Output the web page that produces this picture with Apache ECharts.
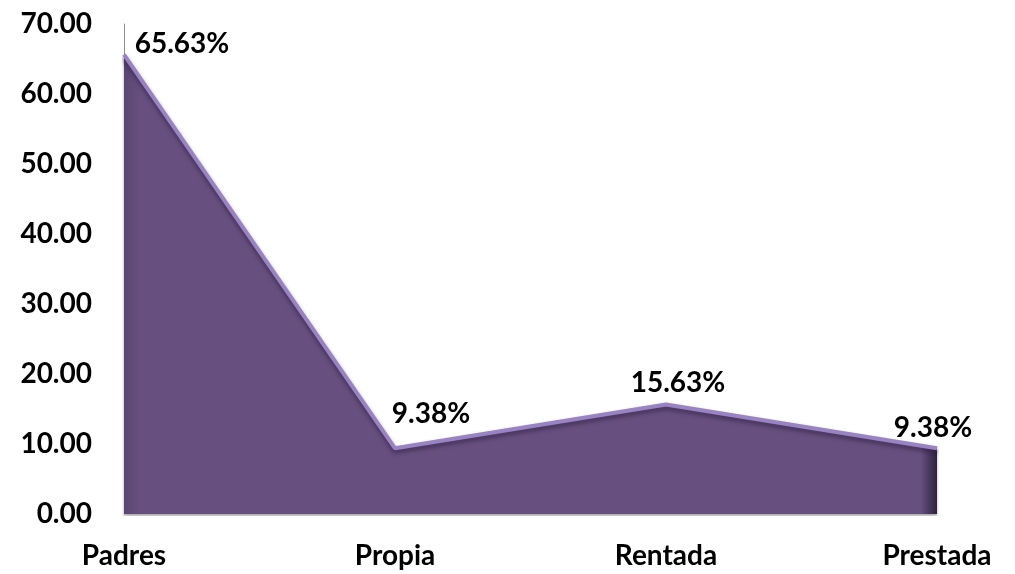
<!DOCTYPE html>
<html>
<head>
    <meta charset="UTF-8">
    <title>Vivienda</title>
    <script src="https://cdn.jsdelivr.net/npm/echarts@6/dist/echarts.min.js"></script>
    <style>
        html, body { margin: 0; padding: 0; background: #fff; }
        #main { width: 1015px; height: 574px; }
    </style>
</head>
<body>
    <div id="main"></div>
    <script type="text/javascript">
        // categorias del eje x
        var categorias = ['Padres', 'Propia', 'Rentada', 'Prestada'];
        // porcentajes
        var valores = [65.63, 9.38, 15.63, 9.38];
        // desplazamiento de cada etiqueta
        var offsets = [[58, 14], [36, -10], [12, 3], [-4, 4]];

        var myChart = echarts.init(document.getElementById('main'));

        var datos = [];
        for (let i = 0; i < valores.length; i++) {
            datos.push({
                value: valores[i],
                label: { offset: offsets[i] }
            });
        }

        var option = {
            animation: false,
            grid: {
                left: 124,
                right: 78,
                top: 24,
                bottom: 60
            },
            xAxis: {
                type: 'category',
                boundaryGap: false,
                data: categorias,
                axisLine: { show: false },
                axisTick: { show: false },
                axisLabel: {
                    margin: 28,
                    fontFamily: 'Lato',
                    fontWeight: 'bold',
                    fontSize: 28,
                    color: '#000'
                }
            },
            yAxis: {
                type: 'value',
                min: 0,
                max: 70,
                interval: 10,
                splitLine: { show: false },
                axisLine: { show: true, lineStyle: { color: '#8c8c8c', width: 1 } },
                axisTick: { show: false },
                axisLabel: {
                    margin: 32,
                    fontFamily: 'Lato',
                    fontWeight: 'bold',
                    fontSize: 28,
                    color: '#000',
                    formatter: function (v) { return v.toFixed(2); }
                }
            },
            series: [{
                type: 'line',
                data: datos,
                symbol: 'circle',
                symbolSize: 1,
                showSymbol: true,
                itemStyle: { color: 'rgba(0,0,0,0)' },
                lineStyle: {
                    color: '#9a83c2',
                    width: 4,
                    shadowColor: 'rgba(40,25,60,0.6)',
                    shadowBlur: 4,
                    shadowOffsetY: 3
                },
                areaStyle: {
                    color: {
                        type: 'linear', x: 0, y: 0, x2: 1, y2: 0,
                        colorStops: [
                            { offset: 0, color: '#5a4573' },
                            { offset: 0.02, color: '#67507f' },
                            { offset: 0.98, color: '#67507f' },
                            { offset: 1, color: '#2e2240' }
                        ]
                    },
                    opacity: 1,
                    shadowColor: 'rgba(0,0,0,0.35)',
                    shadowBlur: 3,
                    shadowOffsetY: 2
                },
                label: {
                    show: true,
                    position: 'top',
                    distance: 10,
                    fontFamily: 'Lato',
                    fontWeight: 'bold',
                    fontSize: 28,
                    color: '#000',
                    formatter: function (p) { return p.value.toFixed(2) + '%'; }
                }
            }]
        };

        myChart.setOption(option);
    </script>
</body>
</html>
